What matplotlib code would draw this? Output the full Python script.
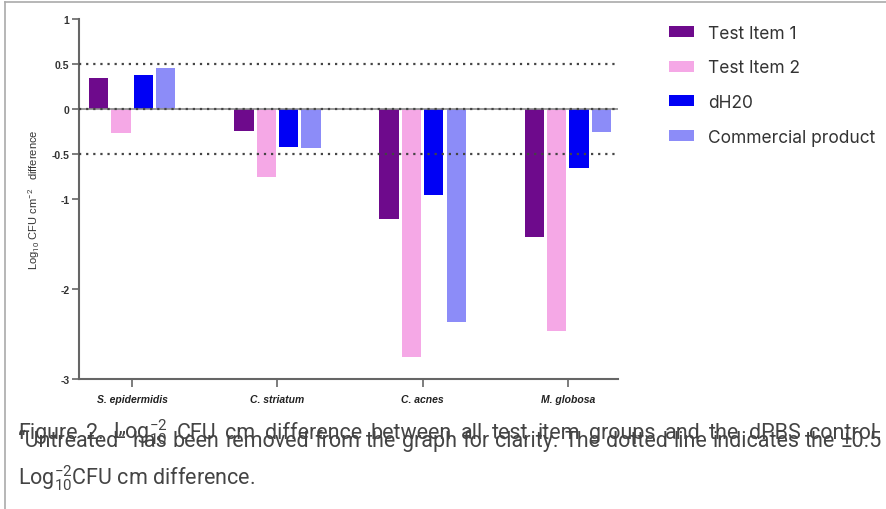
import numpy as np
import matplotlib
matplotlib.use("Agg")
import matplotlib.pyplot as plt
from matplotlib.lines import Line2D
from matplotlib.patches import Patch

# data
organisms = ["S. epidermidis", "C. striatum", "C. acnes", "M. globosa"]
groups = ["Test Item 1", "Test Item 2", "dH20", "Commercial product"]
test_item_1 = [0.35, -0.24, -1.22, -1.42]
test_item_2 = [-0.27, -0.75, -2.75, -2.47]
dh2o = [0.38, -0.42, -0.95, -0.65]
commercial = [0.46, -0.43, -2.37, -0.26]
colors = ["#6e0a8c", "#f5a8e6", "#0000f5", "#8c8cf8"]
yticks = [1, 0.5, 0, -0.5, -1, -2, -3]
ytick_labels = ["1", "0.5", "0", "-0.5", "-1", "-2", "-3"]

plt.rcParams["mathtext.fontset"] = "custom"
plt.rcParams["mathtext.rm"] = "Roboto"
plt.rcParams["mathtext.it"] = "Roboto:italic"
plt.rcParams["mathtext.bf"] = "Roboto:bold"

fig = plt.figure(figsize=(8.86, 5.10), dpi=100)
ax = fig.add_axes([79/886, 1 - 380/510, (618-79)/886, 360/510])

x = np.arange(len(organisms))
step = 0.154
width = 0.133
series = [test_item_1, test_item_2, dh2o, commercial]
for k, (vals, col) in enumerate(zip(series, colors)):
    ax.bar(x + (k - 1.5) * step, vals, width, color=col, label=groups[k], zorder=2)

# reference lines (0 and +/-0.5)
ax.axhline(0, color="#8a8a8a", lw=1.2, zorder=3)
for yv in [0.5, 0, -0.5]:
    ax.axhline(yv, color="#444444", lw=1.6, linestyle=(0, (1, 2.2)), zorder=4)

ax.set_xlim(-0.366, 3.345)
ax.set_ylim(-3, 1)
ax.set_yticks(yticks)
ax.set_yticklabels(ytick_labels, fontsize=7.5, fontweight="bold", color="#333333",
                   fontfamily="Liberation Sans")
ax.set_xticks(x)
ax.set_xticklabels(organisms, fontsize=7.5, fontweight="bold", fontstyle="italic", color="#222222",
                   fontfamily="Liberation Sans")
ax.tick_params(axis="y", length=5, width=1.2, color="#666666", pad=2)
ax.tick_params(axis="x", length=6, width=1.2, color="#666666", pad=5)
for s in ["top", "right"]:
    ax.spines[s].set_visible(False)
for s in ["left", "bottom"]:
    ax.spines[s].set_color("#666666")
    ax.spines[s].set_linewidth(1.5)

ax.set_ylabel(r"Log$_{10}$ CFU cm$^{-2}$   difference", fontsize=8, color="#333333",
              fontfamily="Liberation Sans", labelpad=7)

handles = [Patch(facecolor=c) for c in colors]
fig.legend(handles, groups, loc="upper left", bbox_to_anchor=(653/886, 1 - 10/510),
           frameon=False, handlelength=1.45, handleheight=0.6,
           labelspacing=1.02, handletextpad=0.8, prop={"family": "Inter", "size": 12.5},
           labelcolor="#333333")

# caption - justified text in the source, first two lines overlap there too
cap = dict(fontfamily="Roboto", fontsize=15.5, color="#444444", ha="left", va="baseline")
W = 886.0
x0, x1 = 18.0, 882.0
renderer = fig.canvas.get_renderer()

def justified(words, y_px):
    txts = [fig.text(0, 1 - y_px/510, w, **cap) for w in words]
    widths = [t.get_window_extent(renderer).width for t in txts]
    gap = (x1 - x0 - sum(widths)) / (len(words) - 1)
    pos = x0
    for t, w in zip(txts, widths):
        t.set_x(pos / W)
        pos += w + gap

line1 = [r"Figure", r"2.", r"Log$^{-2}_{10}$", "CFU", "cm", "difference", "between", "all",
         "test", "item", "groups", "and", "the", "dPBS", "control."]
line2 = ["\u201cUntreated\u201d", "has", "been", "removed", "from", "the", "graph", "for",
         "clarity.", "The", "dotted", "line", "indicates", "the", "\u00b10.5"]
justified(line1, 439)
justified(line2, 447)
fig.text(x0/W, 1 - 485/510, r"Log$^{-2}_{10}$CFU cm difference.", **cap)

# page border
fig.add_artist(Line2D([5/886, 5/886], [0, 1 - 3/510], color="#aaaaaa", lw=1.2, transform=fig.transFigure))
fig.add_artist(Line2D([5/886, 1], [1 - 3/510, 1 - 3/510], color="#aaaaaa", lw=1.2, transform=fig.transFigure))

fig.savefig("out.png", dpi=100)
